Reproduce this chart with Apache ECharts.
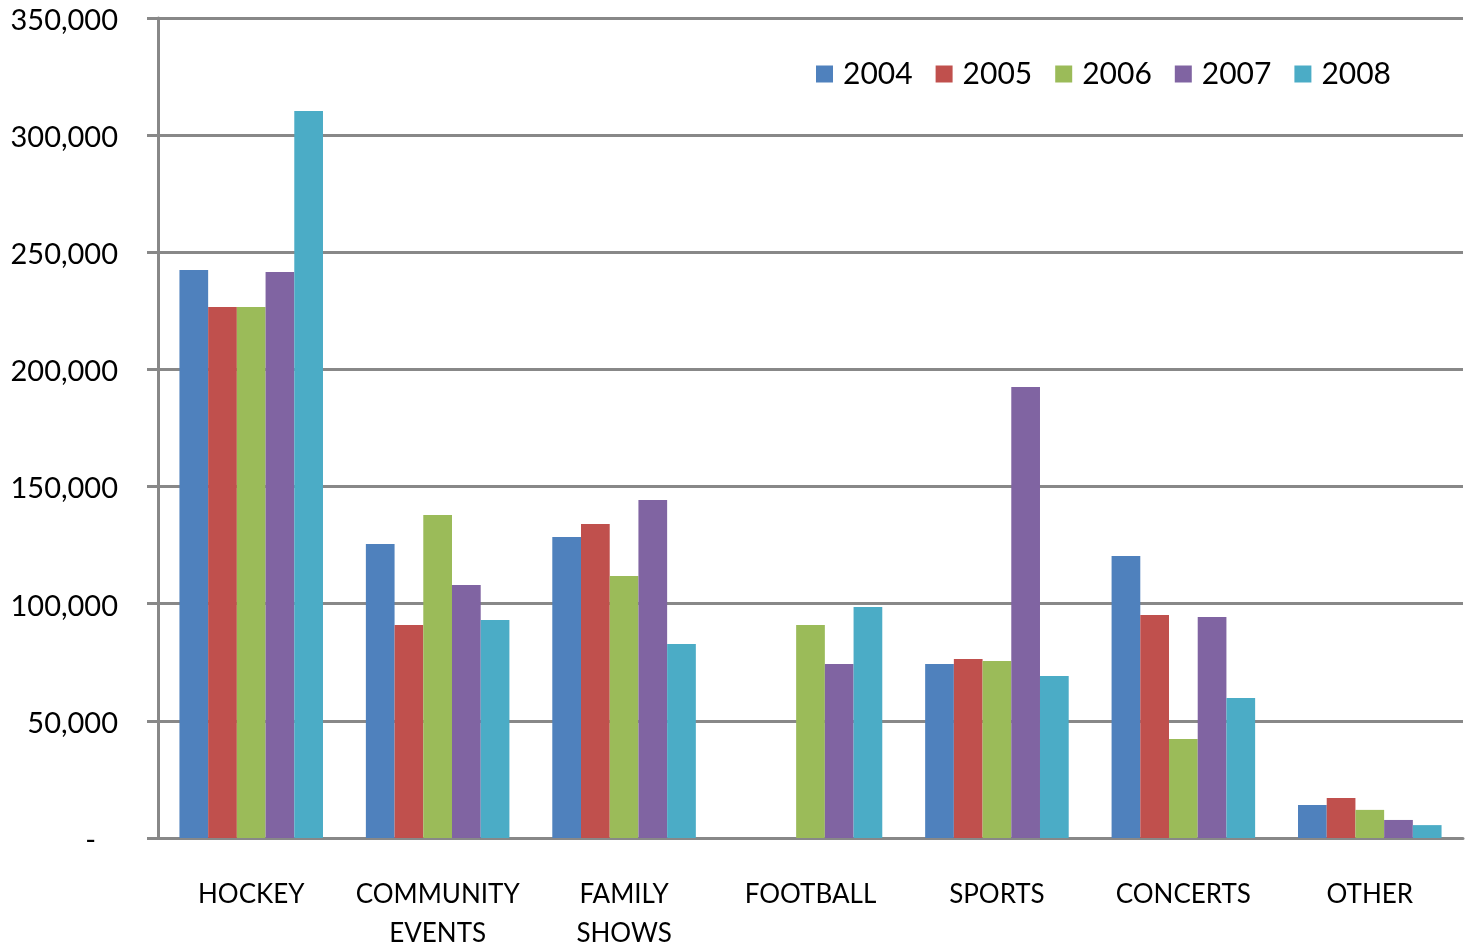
<!DOCTYPE html>
<html>
<head>
<meta charset="utf-8">
<script src="https://cdn.jsdelivr.net/npm/echarts@6/dist/echarts.min.js"></script>
<style>
  html, body { margin: 0; padding: 0; background: #fff; }
  #main { width: 1471px; height: 944px; }
</style>
</head>
<body>
<div id="main"></div>
<script>
const categories = ['HOCKEY', 'COMMUNITY\nEVENTS', 'FAMILY\nSHOWS', 'FOOTBALL', 'SPORTS', 'CONCERTS', 'OTHER']
const years = ['2004', '2005', '2006', '2007', '2008']
const colors = ['#4F81BD', '#C0504D', '#9BBB59', '#8064A2', '#4BACC6']

const v2004 = [242400, 125500, 128500, 0, 74300, 120400, 14100]
const v2005 = [226600, 90900, 134000, 0, 76400, 95200, 17100]
const v2006 = [226600, 137900, 111800, 90900, 75500, 42300, 12000]
const v2007 = [241600, 108000, 144300, 74300, 192500, 94300, 7700]
const v2008 = [310300, 93000, 82800, 98600, 69100, 59800, 5500]
const seriesValues = [v2004, v2005, v2006, v2007, v2008]

const font = 'Lato'
let myChart = echarts.init(document.getElementById('main'))

let option = {
  animation: false,
  color: colors,
  grid: {
    left: 158,
    right: 8,
    top: 18,
    bottom: 106,
    outerBoundsMode: 'none',
    containLabel: false
  },
  legend: {
    left: 811,
    top: 54,
    icon: 'rect',
    itemWidth: 17,
    itemHeight: 17,
    itemGap: 23,
    textStyle: { fontFamily: font, fontSize: 30, color: '#000', padding: [0, 0, 0, 5] },
    data: years
  },
  xAxis: {
    type: 'category',
    data: categories,
    axisLine: { lineStyle: { color: '#888', width: 3 } },
    axisTick: { length: 12, lineStyle: { color: '#888', width: 3 } },
    axisLabel: {
      interval: 0,
      margin: 37,
      fontFamily: font,
      fontSize: 26,
      lineHeight: 39,
      color: '#000'
    }
  },
  yAxis: {
    type: 'value',
    min: 0,
    max: 350000,
    interval: 50000,
    axisLine: { show: true, lineStyle: { color: '#888', width: 3 } },
    axisTick: { show: true, length: 11, lineStyle: { color: '#888', width: 3 } },
    splitLine: { lineStyle: { color: '#888', width: 3 } },
    axisLabel: {
      margin: 40,
      padding: [5, 0, 0, 0],
      fontFamily: font,
      fontSize: 29,
      color: '#000',
      formatter: function (v) {
        if (v === 0) return '{z|-}'
        return v.toLocaleString('en-US')
      },
      rich: {
        z: { fontFamily: font, fontSize: 29, color: '#000', padding: [0, 22, 0, 0] }
      }
    }
  },
  series: years.map((y, i) => ({
    name: y,
    type: 'bar',
    data: seriesValues[i],
    barGap: '0%',
    barCategoryGap: '23%'
  }))
}

myChart.setOption(option)
</script>
</body>
</html>
